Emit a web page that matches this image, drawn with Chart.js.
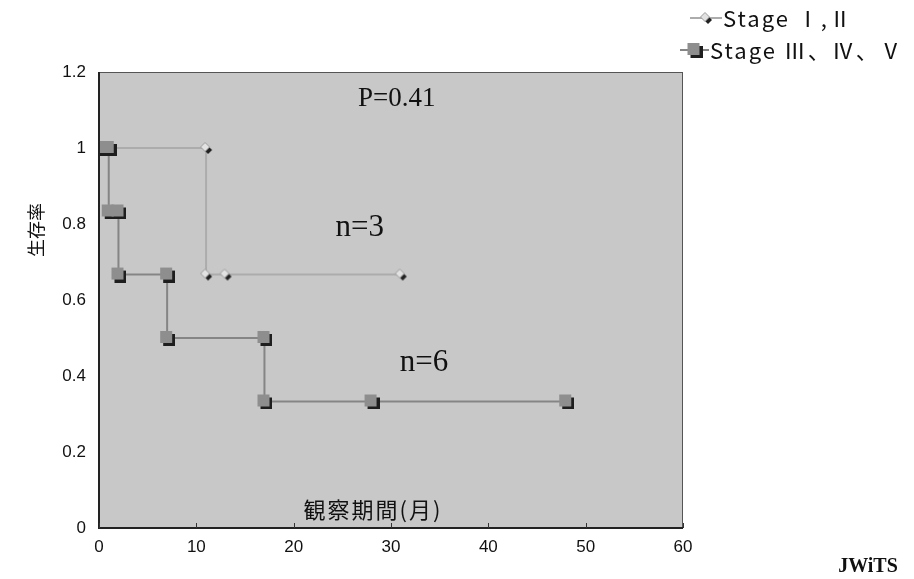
<!DOCTYPE html>
<html><head><meta charset="utf-8">
<script src="https://cdn.jsdelivr.net/npm/chart.js@4/dist/chart.umd.min.js"></script>
<style>html,body{margin:0;padding:0;background:#fff;}#wrap{width:914px;height:579px;position:relative;}</style>
</head><body><div id="wrap"><canvas id="c" width="914" height="579"></canvas></div>
<script>
// ---- data ----
const seriesNames = ['Stage Ⅰ,Ⅱ', 'Stage Ⅲ、Ⅳ、Ⅴ'];
const stage12Months   = [0, 11, 11, 13, 31];
const stage12Survival = [1, 1, 0.667, 0.667, 0.667];
const stage345Months   = [0, 1, 1, 2, 2, 7, 7, 17, 17, 28, 48];
const stage345Survival = [1, 1, 0.833, 0.833, 0.667, 0.667, 0.5, 0.5, 0.333, 0.333, 0.333];
const xTicks = [0, 10, 20, 30, 40, 50, 60];
const yTicks = [0, 0.2, 0.4, 0.6, 0.8, 1, 1.2];
const xTitle = '観察期間(月)';
const yTitle = '生存率';
const annotations = [
  {text: 'P=0.41', x: 30.6, y: 1.13, size: 27},
  {text: 'n=3', x: 26.8, y: 0.79, size: 31},
  {text: 'n=6', x: 33.4, y: 0.434, size: 31}
];
const credit = 'JWiTS';

// ---- marker images ----
function squareImg(){
  const c = document.createElement('canvas'); c.width = 16; c.height = 16;
  const g = c.getContext('2d');
  g.fillStyle = '#1e1e1e'; g.fillRect(4, 4, 12, 12);
  g.fillStyle = '#8e8e8e'; g.fillRect(1, 1, 12, 12);
  return c;
}
function diamondImg(){
  const c = document.createElement('canvas'); c.width = 14; c.height = 14;
  const g = c.getContext('2d');
  g.fillStyle = '#222';
  g.beginPath(); g.moveTo(10,6); g.lineTo(13,9); g.lineTo(9,13); g.lineTo(6,10); g.closePath(); g.fill();
  g.fillStyle = '#e2e2e2'; g.strokeStyle = '#9a9a9a'; g.lineWidth = 1;
  g.beginPath(); g.moveTo(6,1.5); g.lineTo(10.5,6); g.lineTo(6,10.5); g.lineTo(1.5,6); g.closePath(); g.fill(); g.stroke();
  return c;
}
const sq = squareImg(), dm = diamondImg();
const colors = ['#acacac', '#858585'];
const markers = [dm, sq];

const toPts = (xs, ys) => xs.map((x, i) => ({x: x, y: ys[i]}));

const decor = {
  id: 'decor',
  beforeDraw(chart){
    const {ctx, chartArea: a} = chart;
    ctx.save();
    ctx.fillStyle = '#c8c8c8';
    ctx.fillRect(a.left, a.top, a.right - a.left, a.bottom - a.top);
    ctx.restore();
  },
  afterDatasetsDraw(chart){
    const {ctx, chartArea: a, scales} = chart;
    ctx.save();
    ctx.strokeStyle = '#555'; ctx.lineWidth = 1;
    ctx.strokeRect(a.left + 0.5, a.top + 0.5, a.right - a.left - 1, a.bottom - a.top - 1);
    ctx.strokeStyle = '#222'; ctx.lineWidth = 2;
    ctx.beginPath(); ctx.moveTo(a.left, a.top); ctx.lineTo(a.left, a.bottom); ctx.lineTo(a.right, a.bottom); ctx.stroke();
    ctx.lineWidth = 1; ctx.strokeStyle = '#333';
    xTicks.forEach(t => { const px = Math.round(scales.x.getPixelForValue(t)) + 0.5;
      ctx.beginPath(); ctx.moveTo(px, a.bottom); ctx.lineTo(px, a.bottom - 5); ctx.stroke(); });
    ctx.fillStyle = '#111'; ctx.textAlign = 'center'; ctx.textBaseline = 'middle';
    annotations.forEach(n => {
      ctx.font = n.size + 'px "Liberation Serif", "DejaVu Serif", serif';
      ctx.fillText(n.text, scales.x.getPixelForValue(n.x), scales.y.getPixelForValue(n.y));
    });
    ctx.font = '22px "Noto Sans CJK JP", sans-serif';
    ctx.letterSpacing = '2px';
    ctx.fillText(xTitle, 373, 510);
    ctx.restore();
  },
  afterDraw(chart){
    const {ctx} = chart;
    ctx.save();
    ctx.save();
    ctx.translate(36, 230); ctx.rotate(-Math.PI / 2);
    ctx.font = '18px "Noto Sans CJK JP", sans-serif';
    ctx.fillStyle = '#111'; ctx.textAlign = 'center'; ctx.textBaseline = 'middle';
    ctx.fillText(yTitle, 0, 0);
    ctx.restore();
    const rows = [{y: 18, x0: 690, x1: 722, tx: 723}, {y: 50, x0: 680, x1: 709, tx: 710}];
    ctx.textBaseline = 'middle'; ctx.textAlign = 'left';
    ctx.font = '22px "Noto Sans CJK JP", sans-serif';
    ctx.letterSpacing = '2px';
    rows.forEach((r, i) => {
      ctx.strokeStyle = colors[i]; ctx.lineWidth = 2;
      ctx.beginPath(); ctx.moveTo(r.x0, r.y); ctx.lineTo(r.x1, r.y); ctx.stroke();
      const m = markers[i];
      ctx.drawImage(m, (r.x0 + r.x1) / 2 - m.width / 2, r.y - m.height / 2);
      ctx.fillStyle = '#111';
      ctx.fillText(seriesNames[i], r.tx, r.y + 1);
    });
    ctx.letterSpacing = '0px';
    ctx.font = 'bold 20px "Liberation Serif", "DejaVu Serif", serif';
    ctx.textAlign = 'center';
    ctx.fillText(credit, 868, 567);
    ctx.restore();
  }
};

const tickFont = {family: '"Liberation Sans", Arial, sans-serif', size: 17};

new Chart(document.getElementById('c'), {
  type: 'scatter',
  data: {
    datasets: [
      {label: seriesNames[0], data: toPts(stage12Months, stage12Survival), showLine: true,
       borderColor: colors[0], borderWidth: 2, pointStyle: dm, tension: 0, order: 1},
      {label: seriesNames[1], data: toPts(stage345Months, stage345Survival), showLine: true,
       borderColor: colors[1], borderWidth: 2, pointStyle: sq, tension: 0, order: 0}
    ]
  },
  options: {
    responsive: false, animation: false,
    layout: {padding: {top: 72, right: 231, left: 0, bottom: 0}},
    plugins: {legend: {display: false}, tooltip: {enabled: false}},
    scales: {
      x: {type: 'linear', min: 0, max: 60,
          afterBuildTicks: s => { s.ticks = xTicks.map(v => ({value: v})); },
          afterFit: s => { s.height = 51; },
          grid: {display: false, drawTicks: false}, border: {display: false},
          ticks: {padding: 9, color: '#111', font: tickFont}},
      y: {type: 'linear', min: 0, max: 1.2,
          afterBuildTicks: s => { s.ticks = yTicks.map(v => ({value: v})); },
          afterFit: s => { s.width = 99; },
          grid: {display: false, drawTicks: false}, border: {display: false},
          ticks: {padding: 13, color: '#111', font: tickFont,
                  callback: v => String(+(+v).toFixed(2))}}
    }
  },
  plugins: [decor]
});
</script></body></html>
